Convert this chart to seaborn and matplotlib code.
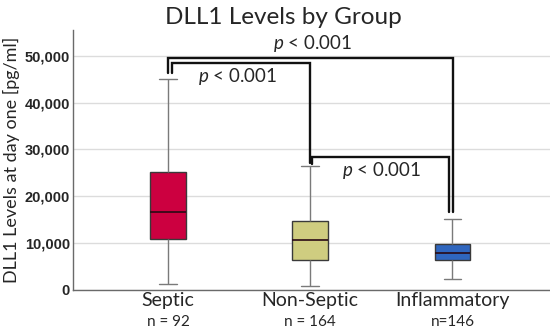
import numpy as np
import pandas as pd
import matplotlib
matplotlib.use("Agg")
import matplotlib.pyplot as plt
import matplotlib.transforms as mtransforms
import seaborn as sns

# ---- data (five-number summaries) ----
categories = ["Septic", "Non-Septic", "Inflammatory"]
n_labels = ["n = 92", "n = 164", "n=146"]
septic = [1240, 10760, 16610, 25250, 45050]
non_septic = [750, 6390, 10540, 14680, 26470]
inflammatory = [2190, 6320, 7760, 9750, 15110]
colors = ["#CC0040", "#CFCD80", "#2F66BE"]
yticks = [0, 10000, 20000, 30000, 40000, 50000]

# significance brackets
bracket_pairs = [(0, 2), (0, 1), (1, 2)]
bracket_tops = [49550, 48440, 28460]
bracket_left_ends = [46390, 46390, 26900]
bracket_right_ends = [16670, 27170, 16670]
bracket_labels = ["p < 0.001", "p < 0.001", "p < 0.001"]

df = pd.DataFrame({
    "group": np.repeat(categories, 5),
    "value": septic + non_septic + inflammatory,
})

sns.set_style("white")
plt.rcParams["font.family"] = ["Lato", "DejaVu Sans"]
plt.rcParams["mathtext.fontset"] = "custom"
plt.rcParams["mathtext.it"] = "Lato:italic"
plt.rcParams["mathtext.rm"] = "Lato"

fig = plt.figure(figsize=(5.5, 3.29), dpi=100)
ax = fig.add_axes([0.1322, 0.120, 0.868, 0.789])

sns.boxplot(data=df, x="group", y="value", hue="group", order=categories,
            hue_order=categories, palette=colors, saturation=1, legend=False,
            whis=(0, 100), width=0.25, fliersize=0, linewidth=1.0,
            linecolor="#3a3a3a",
            whiskerprops=dict(color="#7a7a7a", linewidth=1.0),
            capprops=dict(color="#7a7a7a", linewidth=1.0),
            medianprops=dict(color="#2a0a14", linewidth=1.2),
            ax=ax, zorder=3)

ax.set_xlim(-0.670, 2.687)
ax.set_ylim(0, 55600)
ax.set_yticks(yticks)
ax.set_yticklabels([f"{v:,}" for v in yticks], fontfamily="Liberation Sans",
                   fontweight="bold", fontsize=10.5)
ax.yaxis.grid(True, color="#dcdcdc", linewidth=1.0, zorder=0)
ax.set_axisbelow(True)
ax.tick_params(axis="y", length=0, pad=2)
ax.tick_params(axis="x", length=0, pad=2, labelsize=14)
ax.set_xlabel("")
ax.set_ylabel("DLL1 Levels at day one [pg/ml]", fontsize=13, labelpad=3)
for s in ["top", "right"]:
    ax.spines[s].set_visible(False)
for s in ["left", "bottom"]:
    ax.spines[s].set_color("#6a6a6a")
    ax.spines[s].set_linewidth(1.0)

# n labels
trans = mtransforms.blended_transform_factory(ax.transData, fig.transFigure)
for i, lab in enumerate(n_labels):
    ax.text(i, 1 - 322 / 329, lab, transform=trans, ha="center", va="center",
            fontsize=11)

fig.text(0.515, 1 - 17 / 329, "DLL1 Levels by Group", ha="center", va="center",
         fontsize=17.5)

# brackets
x_offsets = [(0.0, 0.006), (0.026, 0.0), (0.014, -0.021)]
label_pos = [(1.013, 52770), (0.49, 45600), (1.505, 25460)]
for (a, b), top, le, re, (oa, ob), (lx, ly), lab in zip(
        bracket_pairs, bracket_tops, bracket_left_ends, bracket_right_ends,
        x_offsets, label_pos, bracket_labels):
    xa, xb = a + oa, b + ob
    ax.plot([xa, xa, xb, xb], [le, top, top, re], color="#111111",
            linewidth=1.7, solid_joinstyle="miter", zorder=5, clip_on=False)
    ax.text(lx, ly, "$p$" + lab[1:], ha="center", va="center", fontsize=13.5,
            zorder=6)

fig.savefig("out.png", dpi=100)
